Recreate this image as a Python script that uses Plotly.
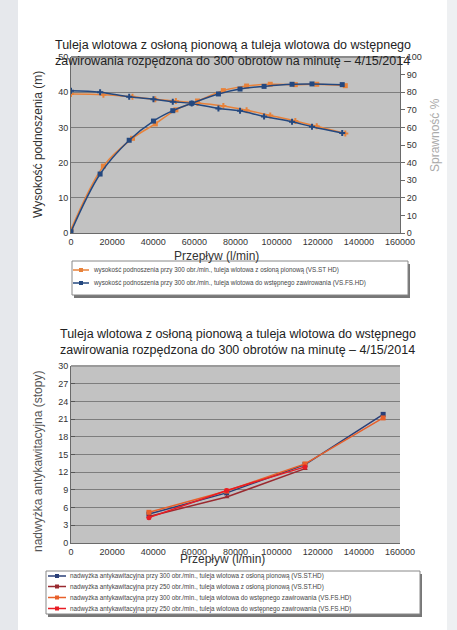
import plotly.graph_objects as go

W, H = 457, 630

# ---------- top chart data ----------
flow_st = [0, 15750, 29900, 41000, 51000, 61500, 74100, 85400, 96900, 109100, 119500, 133400]
head_st = [39.5, 39.3, 38.7, 38.0, 37.5, 36.9, 36.1, 34.9, 33.4, 31.8, 30.3, 28.3]
eff_st = [2.0, 38.0, 53.8, 62.0, 70.0, 75.0, 80.9, 83.5, 84.5, 84.3, 84.5, 83.7]

flow_fs = [0, 14150, 28300, 40100, 49500, 58700, 71700, 82200, 93900, 107500, 117200, 131900]
head_fs = [40.4, 40.0, 38.7, 38.0, 37.3, 36.8, 35.4, 34.7, 33.1, 31.6, 30.2, 28.4]
eff_fs = [0.7, 33.5, 52.7, 63.6, 69.5, 73.7, 79.0, 81.8, 83.3, 84.5, 84.7, 84.3]

# ---------- bottom chart data ----------
flow_npsh = [37900, 75700, 113800, 151800]
npsh_st_300 = [4.9, 8.5, 13.3, 21.8]
npsh_st_250 = [4.5, 7.8, 12.6]
npsh_fs_300 = [5.2, 8.8, 13.4, 21.2]
npsh_fs_250 = [4.3, 8.9, 12.9]

title_txt = ("Tuleja wlotowa z osłoną pionową a tuleja wlotowa do wstępnego<br>"
             "zawirowania rozpędzona do 300 obrotów na minutę – 4/15/2014")
leg_top = [
    "wysokość podnoszenia przy 300 obr./min., tuleja wlotowa z osłoną pionową (VS.ST HD)",
    "wysokość podnoszenia przy 300 obr./min., tuleja wlotowa do wstępnego zawirowania (VS.FS.HD)",
]
leg_bot = [
    "nadwyżka antykawitacyjna przy 300 obr./min., tuleja wlotowa z osłoną pionową (VS.ST.HD)",
    "nadwyżka antykawitacyjna przy 250 obr./min., tuleja wlotowa z osłoną pionową (VS.ST.HD)",
    "nadwyżka antykawitacyjna przy 300 obr./min., tuleja wlotowa do wstępnego zawirowania (VS.FS.HD)",
    "nadwyżka antykawitacyjna przy 250 obr./min., tuleja wlotowa do wstępnego zawirowania (VS.FS.HD)",
]

ORANGE = "#e8823a"
NAVY = "#24487f"
BOT_COLORS = ["#2a3f78", "#9a2a30", "#e8602a", "#e81c24"]
BOT_SYMBOLS = ["square", "triangle-up", "square", "circle"]


def px(x):
    return x / W


def py(y):
    return 1 - y / H


fig = go.Figure()

fig.add_trace(go.Scatter(x=flow_st, y=head_st, name=leg_top[0], mode="lines+markers",
                         line=dict(color=ORANGE, width=1.5, shape="spline"),
                         marker=dict(symbol="cross", size=5, color=ORANGE),
                         xaxis="x", yaxis="y"))
fig.add_trace(go.Scatter(x=flow_fs, y=head_fs, name=leg_top[1], mode="lines+markers",
                         line=dict(color=NAVY, width=1.5, shape="spline"),
                         marker=dict(symbol="cross", size=5, color=NAVY),
                         xaxis="x", yaxis="y"))
fig.add_trace(go.Scatter(x=flow_st, y=eff_st, name="sprawność VS.ST HD", mode="lines+markers",
                         line=dict(color=ORANGE, width=1.5, shape="spline"),
                         marker=dict(symbol="square", size=5, color=ORANGE),
                         xaxis="x", yaxis="y2"))
fig.add_trace(go.Scatter(x=flow_fs, y=eff_fs, name="sprawność VS.FS.HD", mode="lines+markers",
                         line=dict(color=NAVY, width=1.5, shape="spline"),
                         marker=dict(symbol="square", size=5, color=NAVY),
                         xaxis="x", yaxis="y2"))

bot_vals = [npsh_st_300, npsh_st_250, npsh_fs_300, npsh_fs_250]
for vals, col, sym, nm in zip(bot_vals, BOT_COLORS, BOT_SYMBOLS, leg_bot):
    fig.add_trace(go.Scatter(x=flow_npsh[:len(vals)], y=vals, name=nm, mode="lines+markers",
                             line=dict(color=col, width=1.5),
                             marker=dict(symbol=sym, size=5, color=col),
                             xaxis="x3", yaxis="y3"))

xdom = [px(71), px(400)]
tick_font = dict(family="Liberation Sans, Arial", size=9, color="#333")
axis_common = dict(showline=True, linecolor="#6a6a6a", linewidth=1, tickfont=tick_font,
                   zeroline=False, tickformat="d", automargin=False)

shapes = [
    dict(type="rect", xref="paper", yref="paper", x0=0, x1=px(18), y0=0, y1=1,
         fillcolor="#e6e8ec", line=dict(width=0), layer="below"),
    dict(type="rect", xref="paper", yref="paper", x0=px(447), x1=1, y0=0, y1=1,
         fillcolor="#eef0f2", line=dict(width=0), layer="below"),
    dict(type="line", xref="paper", yref="paper", x0=xdom[0], x1=xdom[1],
         y0=py(57), y1=py(57), line=dict(color="#8a8a8a", width=2)),
    dict(type="line", xref="paper", yref="paper", x0=xdom[0], x1=xdom[1],
         y0=py(366), y1=py(366), line=dict(color="#9a9a9a", width=2)),
]
annotations = [
    dict(text=title_txt, xref="paper", yref="paper", x=px(233), y=py(36),
         showarrow=False, font=dict(size=12.5, color="#222"), align="left"),
    dict(text=title_txt, xref="paper", yref="paper", x=px(238), y=py(342),
         showarrow=False, font=dict(size=12.5, color="#222"), align="left"),
    dict(text="Wysokość podnoszenia (m)", xref="paper", yref="paper",
         x=px(38), y=py(145), xanchor="center", yanchor="middle",
         textangle=-90, showarrow=False, font=dict(size=12, color="#333")),
    dict(text="Sprawność %", xref="paper", yref="paper",
         x=px(435), y=py(135), xanchor="center", yanchor="middle",
         textangle=-90, showarrow=False, font=dict(size=12, color="#aaaaaa")),
    dict(text="Przepływ (l/min)", xref="paper", yref="paper",
         x=px(216), y=py(256), showarrow=False,
         font=dict(size=12, color="#333")),
    dict(text="nadwyżka antykawitacyjna (stopy)", xref="paper", yref="paper",
         x=px(38), y=py(462), xanchor="center", yanchor="middle",
         textangle=-90, showarrow=False, font=dict(size=12, color="#555")),
    dict(text="Przepływ (l/min)", xref="paper", yref="paper",
         x=px(222), y=py(568), showarrow=False,
         font=dict(size=12, color="#333")),
]


def add_legend_box(x0, x1, y0, y1, entries, colors, sx0, sx1, tx, ys):
    shapes.append(dict(type="rect", xref="paper", yref="paper",
                       x0=px(x0 + 2), x1=px(x1 + 2), y0=py(y1 + 3), y1=py(y0 + 3),
                       fillcolor="#777", line=dict(width=0)))
    shapes.append(dict(type="rect", xref="paper", yref="paper",
                       x0=px(x0), x1=px(x1), y0=py(y1), y1=py(y0),
                       fillcolor="white", line=dict(color="#888", width=1)))
    for name, col, yy in zip(entries, colors, ys):
        shapes.append(dict(type="line", xref="paper", yref="paper",
                           x0=px(sx0), x1=px(sx1), y0=py(yy), y1=py(yy),
                           line=dict(color=col, width=1.5)))
        mx = (sx0 + sx1) / 2
        shapes.append(dict(type="rect", xref="paper", yref="paper",
                           x0=px(mx - 2), x1=px(mx + 2), y0=py(yy + 2), y1=py(yy - 2),
                           fillcolor=col, line=dict(width=0)))
        annotations.append(dict(text=name, xref="paper", yref="paper",
                                x=px(tx), y=py(yy), xanchor="left", yanchor="middle",
                                showarrow=False, font=dict(size=6.3, color="#444")))


add_legend_box(72, 408, 261, 295, leg_top, [ORANGE, NAVY], 73, 89, 91, [270, 283])
add_legend_box(46, 420, 571, 614, leg_bot, BOT_COLORS, 48, 66, 68,
               [576, 586.5, 597.5, 608.5])

fig.update_layout(
    width=W, height=H,
    autosize=False,
    margin=dict(l=0, r=0, t=0, b=0, pad=0, autoexpand=False),
    showlegend=False,
    paper_bgcolor="white",
    plot_bgcolor="#c2c2c2",
    font=dict(family="Liberation Sans, Arial", color="#333"),
    xaxis=dict(domain=xdom, anchor="y", range=[0, 160000], dtick=20000,
               showgrid=False, ticks="", **axis_common),
    yaxis=dict(domain=[py(233), py(57)], anchor="x", range=[0, 50], dtick=10,
               showgrid=True, gridcolor="#7d7d7d", gridwidth=1, ticks="", **axis_common),
    yaxis2=dict(overlaying="y", side="right", anchor="x", range=[0, 100], dtick=10,
                showgrid=False, ticks="outside", ticklen=4, tickcolor="#6a6a6a", **axis_common),
    xaxis3=dict(domain=xdom, anchor="y3", range=[0, 160000], dtick=20000,
                showgrid=False, ticks="", **axis_common),
    yaxis3=dict(domain=[py(543), py(366)], anchor="x3", range=[0, 30], dtick=3,
                showgrid=True, gridcolor="#7d7d7d", gridwidth=1, ticks="inside", ticklen=4,
                tickcolor="#555", **axis_common),
    shapes=shapes,
    annotations=annotations,
)

fig.write_html(
    "out.html",
    config=dict(responsive=False, displayModeBar=False),
    post_script="document.body.style.margin='0';document.body.style.overflow='hidden';",
)
